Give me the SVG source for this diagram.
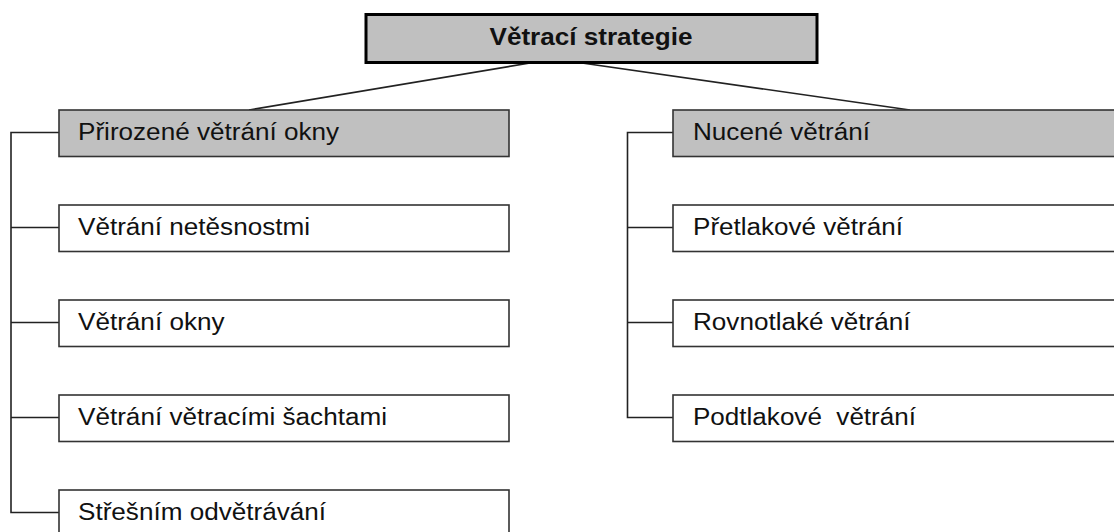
<svg xmlns="http://www.w3.org/2000/svg" width="1114" height="532" viewBox="0 0 1114 532">
  <style>
    .root { fill: #c0c0c0; stroke: #000; stroke-width: 3; }
    .cat { fill: #c0c0c0; stroke: #333; stroke-width: 1.6; }
    .leaf { fill: #fff; stroke: #333; stroke-width: 1.6; }
    .lbl { font-family: "Liberation Sans", Arial, sans-serif; font-size: 23.5px; fill: #111; white-space: pre; }
    .title { font-family: "Liberation Sans", Arial, sans-serif; font-size: 23.5px; font-weight: bold; fill: #111; }
    .conn { fill: none; stroke: #222; stroke-width: 1.6; }
  </style>
  <rect width="1114" height="532" fill="#fff"/>
  <g id="connectors">
    <line class="conn" x1="536" y1="62" x2="249" y2="110"/>
    <line class="conn" x1="575" y1="62" x2="910" y2="110"/>
    <polyline class="conn" points="59,132.5 11,132.5 11,512.5 59,512.5"/>
    <line class="conn" x1="11" y1="227.5" x2="59" y2="227.5"/>
    <line class="conn" x1="11" y1="322.5" x2="59" y2="322.5"/>
    <line class="conn" x1="11" y1="417.5" x2="59" y2="417.5"/>
    <polyline class="conn" points="673,132.5 627.5,132.5 627.5,417.5 673,417.5"/>
    <line class="conn" x1="627.5" y1="227.5" x2="673" y2="227.5"/>
    <line class="conn" x1="627.5" y1="322.5" x2="673" y2="322.5"/>
  </g>
  <g id="root">
    <rect class="root" x="366" y="14.5" width="451" height="48"/>
    <text class="title" x="591" y="45" text-anchor="middle" textLength="203" lengthAdjust="spacingAndGlyphs">Větrací strategie</text>
  </g>
  <g id="n-prirozene">
    <rect class="cat" x="59" y="110" width="450" height="46.5"/>
    <text class="lbl" x="78" y="140" textLength="261" lengthAdjust="spacingAndGlyphs">Přirozené větrání okny</text>
  </g>
  <g id="n-netesnostmi">
    <rect class="leaf" x="59" y="205" width="450" height="46.5"/>
    <text class="lbl" x="78" y="235" textLength="232" lengthAdjust="spacingAndGlyphs">Větrání netěsnostmi</text>
  </g>
  <g id="n-okny">
    <rect class="leaf" x="59" y="300" width="450" height="46.5"/>
    <text class="lbl" x="78" y="330" textLength="146.5" lengthAdjust="spacingAndGlyphs">Větrání okny</text>
  </g>
  <g id="n-sachtami">
    <rect class="leaf" x="59" y="395" width="450" height="46.5"/>
    <text class="lbl" x="78" y="425" textLength="309" lengthAdjust="spacingAndGlyphs">Větrání větracími šachtami</text>
  </g>
  <g id="n-stresnim">
    <rect class="leaf" x="59" y="490" width="450" height="46.5"/>
    <text class="lbl" x="78" y="520" textLength="248" lengthAdjust="spacingAndGlyphs">Střešním odvětrávání</text>
  </g>
  <g id="n-nucene">
    <rect class="cat" x="673" y="110" width="450" height="46.5"/>
    <text class="lbl" x="693" y="140" textLength="177" lengthAdjust="spacingAndGlyphs">Nucené větrání</text>
  </g>
  <g id="n-pretlakove">
    <rect class="leaf" x="673" y="205" width="450" height="46.5"/>
    <text class="lbl" x="693" y="235" textLength="210" lengthAdjust="spacingAndGlyphs">Přetlakové větrání</text>
  </g>
  <g id="n-rovnotlake">
    <rect class="leaf" x="673" y="300" width="450" height="46.5"/>
    <text class="lbl" x="693" y="330" textLength="217.5" lengthAdjust="spacingAndGlyphs">Rovnotlaké větrání</text>
  </g>
  <g id="n-podtlakove">
    <rect class="leaf" x="673" y="395" width="450" height="46.5"/>
    <text class="lbl" x="693" y="425" textLength="223" lengthAdjust="spacingAndGlyphs" xml:space="preserve">Podtlakové  větrání</text>
  </g>
</svg>
